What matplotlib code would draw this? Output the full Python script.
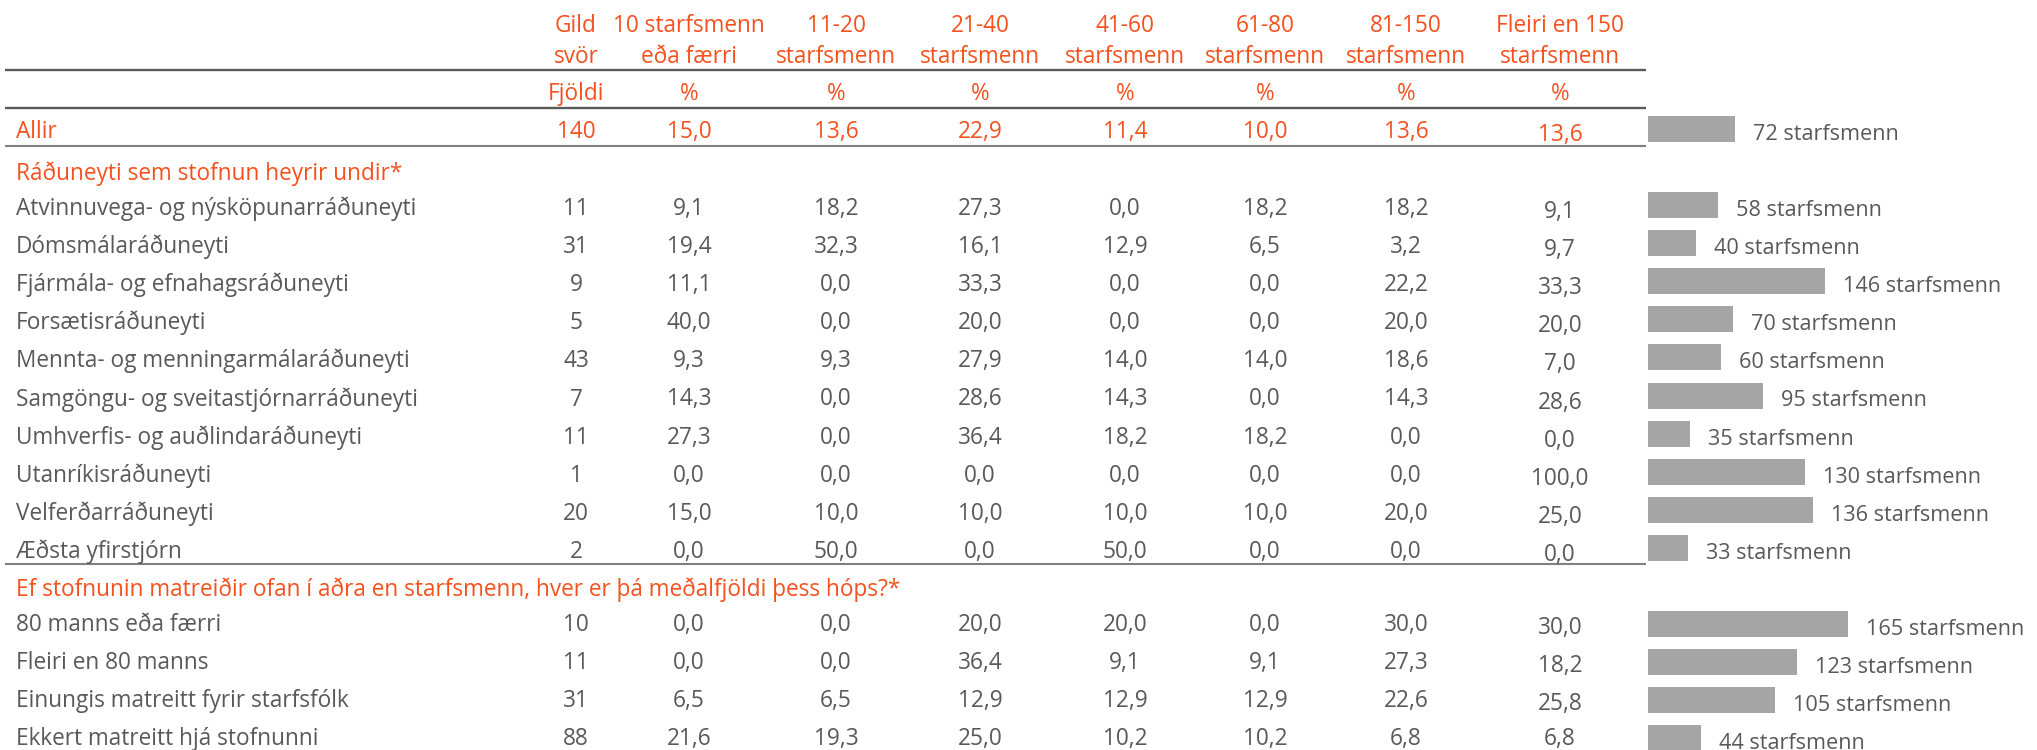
import matplotlib
matplotlib.use("Agg")
import matplotlib.pyplot as plt

# ---------------- data ----------------
col_headers_1 = ["Gild", "10 starfsmenn", "11-20", "21-40", "41-60", "61-80", "81-150", "Fleiri en 150"]
col_headers_2 = ["svör", "eða færri", "starfsmenn", "starfsmenn", "starfsmenn", "starfsmenn", "starfsmenn", "starfsmenn"]
col_units = ["Fjöldi", "%", "%", "%", "%", "%", "%", "%"]

total_label = "Allir"
total_n = 140
total_pct = [15.0, 13.6, 22.9, 11.4, 10.0, 13.6, 13.6]
total_mean = 72

group1_title = "Ráðuneyti sem stofnun heyrir undir*"
group1_labels = ["Atvinnuvega- og nýsköpunarráðuneyti", "Dómsmálaráðuneyti",
                 "Fjármála- og efnahagsráðuneyti", "Forsætisráðuneyti",
                 "Mennta- og menningarmálaráðuneyti", "Samgöngu- og sveitastjórnarráðuneyti",
                 "Umhverfis- og auðlindaráðuneyti", "Utanríkisráðuneyti",
                 "Velferðarráðuneyti", "Æðsta yfirstjórn"]
group1_n = [11, 31, 9, 5, 43, 7, 11, 1, 20, 2]
group1_pct = [
    [9.1, 18.2, 27.3, 0.0, 18.2, 18.2, 9.1],
    [19.4, 32.3, 16.1, 12.9, 6.5, 3.2, 9.7],
    [11.1, 0.0, 33.3, 0.0, 0.0, 22.2, 33.3],
    [40.0, 0.0, 20.0, 0.0, 0.0, 20.0, 20.0],
    [9.3, 9.3, 27.9, 14.0, 14.0, 18.6, 7.0],
    [14.3, 0.0, 28.6, 14.3, 0.0, 14.3, 28.6],
    [27.3, 0.0, 36.4, 18.2, 18.2, 0.0, 0.0],
    [0.0, 0.0, 0.0, 0.0, 0.0, 0.0, 100.0],
    [15.0, 10.0, 10.0, 10.0, 10.0, 20.0, 25.0],
    [0.0, 50.0, 0.0, 50.0, 0.0, 0.0, 0.0],
]
group1_mean = [58, 40, 146, 70, 60, 95, 35, 130, 136, 33]

group2_title = "Ef stofnunin matreiðir ofan í aðra en starfsmenn, hver er þá meðalfjöldi þess hóps?*"
group2_labels = ["80 manns eða færri", "Fleiri en 80 manns",
                 "Einungis matreitt fyrir starfsfólk", "Ekkert matreitt hjá stofnunni"]
group2_n = [10, 11, 31, 88]
group2_pct = [
    [0.0, 0.0, 20.0, 20.0, 0.0, 30.0, 30.0],
    [0.0, 0.0, 36.4, 9.1, 9.1, 27.3, 18.2],
    [6.5, 6.5, 12.9, 12.9, 12.9, 22.6, 25.8],
    [21.6, 19.3, 25.0, 10.2, 10.2, 6.8, 6.8],
]
group2_mean = [165, 123, 105, 44]
mean_suffix = " starfsmenn"

# ---------------- style / layout ----------------
W, H = 2037, 750
ORANGE = "#F4511E"
GRAY = "#595959"
BAR = "#A5A5A5"
FONT = "Open Sans"
FS = 16.3
FS_BAR = 15.6

col_x = [576, 689, 836, 980, 1125, 1265, 1406, 1560]
label_x = 16
line_x0, line_x1 = 5, 1646
bar_x0 = 1648
px_per_unit = 1.21

fig = plt.figure(figsize=(W / 100, H / 100), dpi=100)
fig.patch.set_facecolor("white")
ax = fig.add_axes([0, 0, 1, 1])
ax.set_xlim(0, W)
ax.set_ylim(H, 0)
ax.axis("off")

bax = fig.add_axes([bar_x0 / W, 0, (W - bar_x0) / W, 1])
bax.set_xlim(0, (W - bar_x0) / px_per_unit)
bax.set_ylim(H, 0)
bax.axis("off")


def fmt(v):
    return f"{v:.1f}".replace(".", ",")


def txt(x, y, s, color=GRAY, ha="center"):
    ax.text(x, y, s, ha=ha, va="baseline", fontsize=FS, color=color, family=FONT)


# header
for x, h1, h2, u in zip(col_x, col_headers_1, col_headers_2, col_units):
    txt(x, 32, h1, ORANGE)
    txt(x, 63, h2, ORANGE)
    txt(x, 100, u, ORANGE)

# lines
ax.plot([line_x0, line_x1], [70, 70], color=GRAY, lw=1.7, solid_capstyle="butt")
ax.plot([line_x0, line_x1], [108, 108], color=GRAY, lw=1.7, solid_capstyle="butt")
ax.plot([line_x0, line_x1], [146, 146], color="#808080", lw=1.5, solid_capstyle="butt")
ax.plot([line_x0, line_x1], [564, 564], color="#808080", lw=1.5, solid_capstyle="butt")


def data_row(yc, label, n, pcts, color, boff=10):
    base = yc + boff
    txt(label_x, base, label, color, ha="left")
    txt(col_x[0], base, str(n), color)
    for j, v in enumerate(pcts):
        off = 3 if (j == len(pcts) - 1 and base + 3 <= 742) else 0
        txt(col_x[j + 1], base + off, fmt(v), color)


def bar_row(yc, v):
    bax.barh([yc], [v], height=26, left=0, color=BAR, edgecolor="none")
    bax.annotate(f"{v}{mean_suffix}", xy=(v, yc + 11), xytext=(18, 0),
                 textcoords="offset pixels", ha="left", va="baseline",
                 fontsize=FS_BAR, color=GRAY, family=FONT)


# total row
data_row(128, total_label, total_n, total_pct, ORANGE)
bar_row(129, total_mean)

# group 1
txt(label_x, 180, group1_title, ORANGE, ha="left")
for i, (lab, n, p, m) in enumerate(zip(group1_labels, group1_n, group1_pct, group1_mean)):
    yc = 205 + 38.1 * i
    data_row(yc, lab, n, p, GRAY)
    bar_row(yc, m)

# group 2
txt(label_x, 596, group2_title, ORANGE, ha="left")
for i, (lab, n, p, m) in enumerate(zip(group2_labels, group2_n, group2_pct, group2_mean)):
    yc = 624 + 38.0 * i
    data_row(yc, lab, n, p, GRAY, boff=7)
    bar_row(yc, m)

fig.savefig("out.png", dpi=100, facecolor="white")
